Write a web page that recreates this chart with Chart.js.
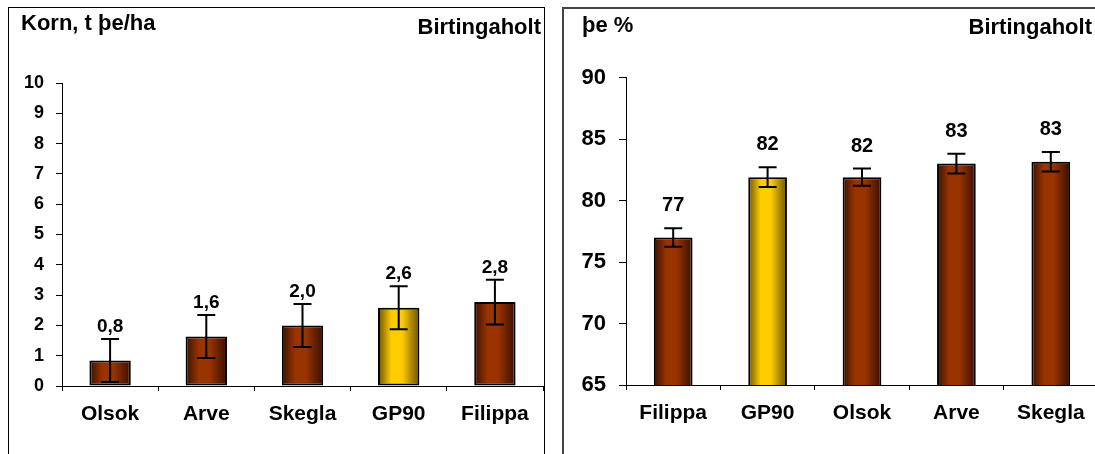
<!DOCTYPE html>
<html>
<head>
<meta charset="utf-8">
<script src="https://cdn.jsdelivr.net/npm/chart.js@4.4.0/dist/chart.umd.min.js"></script>
<style>
html, body { margin: 0; padding: 0; background: #fff; }
#wrap { position: relative; width: 1095px; height: 454px; overflow: hidden;
        font-family: "Liberation Sans", Arial, sans-serif; font-weight: bold; color: #000; }
.box { position: absolute; top: 7px; height: 470px; box-sizing: border-box; }
#boxL { left: 8px; width: 537px; border: 1px solid #000; }
#boxR { left: 562px; width: 560px; border: 2px solid #444; }
.lbl { position: absolute; font-size: 22px; line-height: 22px; white-space: nowrap; }
canvas { position: absolute; top: 0; }
</style>
</head>
<body>
<div id="wrap">
  <div class="box" id="boxL"></div>
  <div class="box" id="boxR"></div>
  <canvas id="chartL" width="545" height="454" style="left:0"></canvas>
  <canvas id="chartR" width="560" height="454" style="left:550px"></canvas>
  <div class="lbl" style="left:21px; top:12px;">Korn, t þe/ha</div>
  <div class="lbl" style="right:554px; top:16px;">Birtingaholt</div>
  <div class="lbl" style="left:582px; top:14px;">þe %</div>
  <div class="lbl" style="right:3px; top:16px;">Birtingaholt</div>
</div>
<script>
// Korn, t þe/ha
const kornLabels = ['Olsok', 'Arve', 'Skegla', 'GP90', 'Filippa'];
const kornValues = [0.84, 1.63, 2.0, 2.58, 2.77];
const kornErrors = [0.71, 0.71, 0.71, 0.71, 0.74];
const kornTicks = [0, 10, 1];

// þe %
const theLabels = ['Filippa', 'GP90', 'Olsok', 'Arve', 'Skegla'];
const theValues = [77.0, 81.9, 81.9, 83.0, 83.15];
const theErrors = [0.75, 0.8, 0.7, 0.8, 0.8];
const theTicks = [65, 90, 5];

const highlight = 'GP90';

Chart.defaults.font.family = '"Liberation Sans", Arial, sans-serif';
Chart.defaults.font.weight = 'bold';
Chart.defaults.color = '#000';

// lárétt litbrigði á hverri súlu
function barFill(pct) {
  return function (c) {
    const chart = c.chart;
    const xs = chart.scales.x;
    const yellow = chart.data.labels[c.dataIndex] === highlight;
    const solid = yellow ? '#ffcc00' : '#993300';
    if (!xs || c.dataIndex === undefined) return solid;
    const cx = xs.getPixelForValue(c.dataIndex);
    const w = (xs.right - xs.left) / chart.data.labels.length * pct;
    if (!isFinite(cx) || !isFinite(w) || w <= 0) return solid;
    const g = chart.ctx.createLinearGradient(cx - w / 2, 0, cx + w / 2, 0);
    if (yellow) {
      g.addColorStop(0, '#6a5200');
      g.addColorStop(0.32, '#ffcc00');
      g.addColorStop(0.58, '#ffcc00');
      g.addColorStop(1, '#6a5200');
    } else {
      g.addColorStop(0, '#3a1000');
      g.addColorStop(0.32, '#993300');
      g.addColorStop(0.58, '#993300');
      g.addColorStop(1, '#380f00');
    }
    return g;
  };
}

// skekkjustrik og gildi fyrir ofan
function errorPlugin(errors, cfg) {
  return {
    id: 'errorBars',
    afterDatasetsDraw(chart) {
      const ctx = chart.ctx;
      const ys = chart.scales.y;
      const values = chart.data.datasets[0].data;
      const meta = chart.getDatasetMeta(0);
      ctx.save();
      ctx.strokeStyle = '#000';
      ctx.lineWidth = 2;
      meta.data.forEach((bar, i) => {
        const top = ys.getPixelForValue(values[i] + errors[i]);
        const bot = ys.getPixelForValue(values[i] - errors[i]);
        ctx.beginPath();
        ctx.moveTo(bar.x, top); ctx.lineTo(bar.x, bot);
        ctx.moveTo(bar.x - cfg.cap, top); ctx.lineTo(bar.x + cfg.cap, top);
        ctx.moveTo(bar.x - cfg.cap, bot); ctx.lineTo(bar.x + cfg.cap, bot);
        ctx.stroke();
        ctx.font = 'bold ' + cfg.size + 'px "Liberation Sans", Arial, sans-serif';
        ctx.fillStyle = '#000';
        ctx.textAlign = 'center';
        ctx.textBaseline = 'alphabetic';
        ctx.fillText(cfg.text(values[i]), bar.x, top - cfg.gap);
      });
      ctx.restore();
    }
  };
}

function makeChart(id, labels, values, errors, ticks, o) {
  return new Chart(document.getElementById(id), {
    type: 'bar',
    data: {
      labels: labels,
      datasets: [{
        data: values,
        backgroundColor: barFill(o.barPct),
        borderColor: '#000',
        borderWidth: 2,
        borderSkipped: false,
        categoryPercentage: 1,
        barPercentage: o.barPct
      }]
    },
    options: {
      responsive: false,
      animation: false,
      devicePixelRatio: 1,
      layout: { padding: { left: 0, right: o.padRight, top: o.padTop, bottom: 0 } },
      plugins: { legend: { display: false }, tooltip: { enabled: false } },
      scales: {
        x: {
          afterFit: s => { s.height = o.xHeight; },
          grid: { drawOnChartArea: false, tickLength: 5, color: '#000' },
          border: { color: '#000', width: 1 },
          ticks: { font: { size: 21, weight: 'bold' }, padding: o.xPad, maxRotation: 0 }
        },
        y: {
          min: ticks[0], max: ticks[1],
          afterFit: s => { s.width = o.yWidth; },
          grid: { drawOnChartArea: false, tickLength: o.yTick, color: '#000' },
          border: { color: '#000', width: 1 },
          ticks: { stepSize: ticks[2], font: { size: o.ySize, weight: 'bold' }, padding: o.yPad }
        }
      }
    },
    plugins: [errorPlugin(errors, o.err)]
  });
}

makeChart('chartL', kornLabels, kornValues, kornErrors, kornTicks, {
  barPct: 0.43, padRight: 2, padTop: 83, xHeight: 68, xPad: 11,
  yWidth: 62, yTick: 6, ySize: 18, yPad: 12,
  err: { cap: 9, gap: 7, size: 19, text: v => v.toFixed(1).replace('.', ',') }
});

makeChart('chartR', theLabels, theValues, theErrors, theTicks, {
  barPct: 0.41, padRight: 12, padTop: 77.5, xHeight: 69, xPad: 11,
  yWidth: 76, yTick: 7, ySize: 22, yPad: 13,
  err: { cap: 9, gap: 17, size: 20, text: v => String(Math.round(v)) }
});
</script>
</body>
</html>
